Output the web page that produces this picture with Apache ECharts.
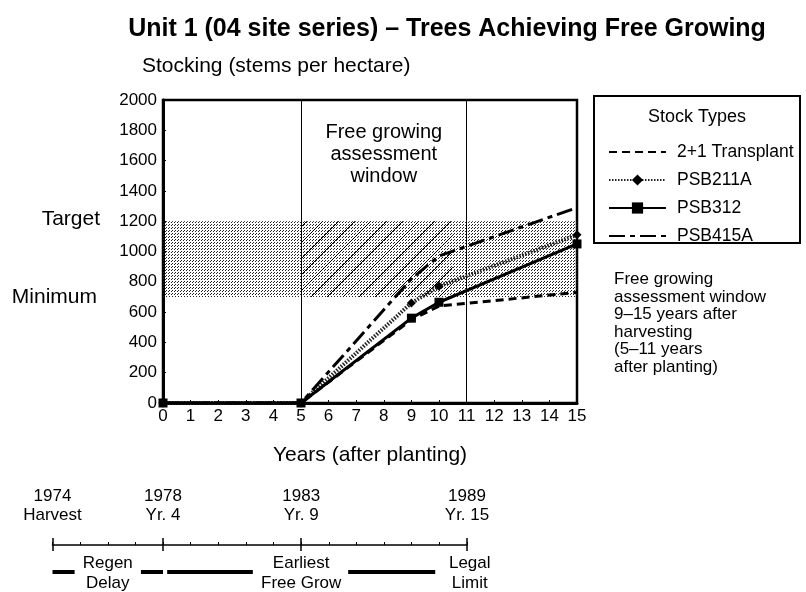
<!DOCTYPE html>
<html>
<head>
<meta charset="utf-8">
<script src="https://cdn.jsdelivr.net/npm/echarts@6/dist/echarts.min.js"></script>
<style>html,body{margin:0;padding:0;background:#fff}#c{width:806px;height:592px}</style>
</head>
<body>
<div id="c"></div>
<script>
// ---- data ----
const years = [0, 5, 9, 10, 15];
const transplant = [0, 0, 550, 640, 730];
const psb211a = [0, 0, 660, 770, 1110];
const psb312 = [0, 0, 560, 665, 1050];
const psb415a = [0, 0, 820, 970, 1290];
const seriesNames = ['2+1 Transplant', 'PSB211A', 'PSB312', 'PSB415A'];
const targetLevel = 1200;
const minimumLevel = 700;
const windowLines = [5, 11];
const hatchRange = [5, 10.5];
const timelineYears = [1974, 1978, 1983, 1989];
const timelineLabels = ['1974\nHarvest', '1978\nYr. 4', '1983\nYr. 9', '1989\nYr. 15'];
const timelineBars = [[1974.0, 1974.8], [1977.2, 1978.0], [1978.15, 1981.25], [1984.7, 1987.85]];
const phaseYears = [1976.0, 1983.0, 1989.1];
const phaseNames = ['Regen\nDelay', 'Earliest\nFree Grow', 'Legal\nLimit'];

const FONT = '"Liberation Sans", Arial, sans-serif';

function pattern(size, draw) {
  const c = document.createElement('canvas');
  c.width = size; c.height = size;
  const g = c.getContext('2d');
  draw(g);
  return c;
}
const dotCanvas = pattern(3, g => {
  g.fillStyle = '#222';
  g.fillRect(0, 0, 1, 1); g.fillRect(1, 2, 1, 1);
});
const hatchCanvas = pattern(16, g => {
  g.strokeStyle = '#000'; g.lineWidth = 1;
  g.beginPath(); g.moveTo(0, 16); g.lineTo(16, 0); g.stroke();
});

const pts = arr => years.map((x, i) => [x, arr[i]]);
const tlAxisBase = {gridIndex: 1, type: 'value', min: 1974, max: 1989, position: 'bottom', splitLine: {show: false}};

const chart = echarts.init(document.getElementById('c'), null, {renderer: 'canvas'});
const option = {
  animation: false,
  textStyle: {fontFamily: FONT, color: '#000'},
  grid: [
    {left: 163, top: 100, right: 229, bottom: 189, show: true, borderColor: '#000', borderWidth: 2.5},
    {left: 52.5, right: 339, top: 500, bottom: 47}
  ],
  xAxis: [
    {gridIndex: 0, type: 'value', min: 0, max: 15, interval: 1,
     axisLine: {lineStyle: {color: '#000', width: 3}},
     axisTick: {inside: true, length: 3, lineStyle: {color: '#000'}},
     splitLine: {show: false},
     axisLabel: {color: '#000', fontSize: 17, margin: 5, fontFamily: FONT},
     name: 'Years (after planting)', nameLocation: 'middle', nameGap: 42,
     nameTextStyle: {fontSize: 21, color: '#000', fontFamily: FONT}},
    Object.assign({}, tlAxisBase, {interval: 1,
     axisLine: {lineStyle: {color: '#000', width: 1.5}},
     axisTick: {inside: true, length: 3, lineStyle: {color: '#000'}},
     axisLabel: {show: false}}),
    Object.assign({}, tlAxisBase, {
     axisLine: {show: false},
     axisTick: {inside: true, length: 7, customValues: timelineYears, lineStyle: {color: '#000', width: 1.5}},
     axisLabel: {inside: true, margin: 20, customValues: timelineYears, color: '#000', fontSize: 17, lineHeight: 19, fontFamily: FONT,
       formatter: v => timelineLabels[timelineYears.indexOf(v)]}}),
    Object.assign({}, tlAxisBase, {
     axisLine: {show: false},
     axisTick: {inside: false, length: 6, customValues: timelineYears, lineStyle: {color: '#000', width: 1.5}},
     axisLabel: {show: false}})
  ],
  yAxis: [
    {gridIndex: 0, type: 'value', min: 0, max: 2000, interval: 200,
     axisLine: {show: true, lineStyle: {color: '#000', width: 3}},
     axisTick: {show: true, inside: true, length: 3, lineStyle: {color: '#000'}},
     splitLine: {show: false},
     axisLabel: {color: '#000', fontSize: 17, margin: 6, fontFamily: FONT, formatter: v => String(v)}},
    {gridIndex: 1, type: 'value', min: 0, max: 1, show: false}
  ],
  legend: {
    orient: 'vertical', left: 603, top: 138, itemWidth: 57, itemHeight: 14, itemGap: 10,
    data: [
      {name: seriesNames[0], itemStyle: {color: 'rgba(0,0,0,0)', borderWidth: 0}},
      {name: seriesNames[1]},
      {name: seriesNames[2]},
      {name: seriesNames[3], itemStyle: {color: 'rgba(0,0,0,0)', borderWidth: 0}}
    ],
    textStyle: {fontSize: 17.5, color: '#000', fontFamily: FONT, padding: [0, 0, 0, 6]}
  },
  series: [
    {name: seriesNames[0], type: 'line', data: pts(transplant), symbol: 'none', z: 5,
     color: '#000', lineStyle: {color: '#000', width: 3, type: [8, 5]},
     markArea: {silent: true, data: [
       [{xAxis: 0, yAxis: minimumLevel, itemStyle: {color: {image: dotCanvas, repeat: 'repeat'}}},
        {xAxis: 15, yAxis: targetLevel}],
       [{xAxis: hatchRange[0], yAxis: minimumLevel, itemStyle: {color: {image: hatchCanvas, repeat: 'repeat'}}},
        {xAxis: hatchRange[1], yAxis: targetLevel}]
     ]},
     markLine: {silent: true, symbol: 'none', label: {show: false},
       lineStyle: {color: '#000', width: 1, type: 'solid'},
       data: windowLines.map(v => ({xAxis: v}))}},
    {name: seriesNames[1], type: 'line', data: pts(psb211a), symbol: 'diamond', symbolSize: 9, z: 6,
     color: '#000', itemStyle: {color: '#000'},
     lineStyle: {color: '#222', width: 4, type: [1.5, 1.5]}},
    {name: seriesNames[2], type: 'line', data: pts(psb312), symbol: 'rect', symbolSize: 9, z: 7,
     color: '#000', itemStyle: {color: '#000'},
     lineStyle: {color: '#000', width: 3}},
    {name: seriesNames[3], type: 'line', data: pts(psb415a), symbol: 'none', z: 6,
     color: '#000', lineStyle: {color: '#000', width: 3, type: [16, 5, 5, 5]}},
    {type: 'custom', xAxisIndex: 1, yAxisIndex: 1, silent: true, clip: false,
     data: timelineBars,
     renderItem: (params, api) => {
       const a = api.coord([api.value(0), 0]);
       const b = api.coord([api.value(1), 0]);
       return {type: 'line', shape: {x1: a[0], y1: a[1] + 27, x2: b[0], y2: b[1] + 27},
               style: {stroke: '#000', lineWidth: 4}};
     }},
    {type: 'custom', xAxisIndex: 1, yAxisIndex: 1, silent: true, clip: false,
     data: phaseYears.map((y, i) => [y, i]),
     renderItem: (params, api) => {
       const p = api.coord([api.value(0), 0]);
       return {type: 'text', x: p[0], y: p[1] + 28,
               style: {text: phaseNames[api.value(1)], fill: '#000', font: '17px ' + FONT,
                       align: 'center', verticalAlign: 'middle', lineHeight: 20}};
     }}
  ]
};
chart.setOption(option);

const yT = chart.convertToPixel({yAxisIndex: 0}, targetLevel);
const yM = chart.convertToPixel({yAxisIndex: 0}, minimumLevel);
const winC = chart.convertToPixel({gridIndex: 0}, [8, 1640]);
chart.setOption({
  graphic: [
    {type: 'text', x: 447, y: 29, style: {text: 'Unit 1 (04 site series) – Trees Achieving Free Growing',
      font: 'bold 25px ' + FONT, fill: '#000', align: 'center', verticalAlign: 'middle'}},
    {type: 'text', x: 142, y: 66, style: {text: 'Stocking (stems per hectare)',
      font: '21px ' + FONT, fill: '#000', align: 'left', verticalAlign: 'middle'}},
    {type: 'text', x: 100, y: yT - 2, style: {text: 'Target', font: '21px ' + FONT, fill: '#000', align: 'right', verticalAlign: 'middle'}},
    {type: 'text', x: 97, y: yM, style: {text: 'Minimum', font: '21px ' + FONT, fill: '#000', align: 'right', verticalAlign: 'middle'}},
    {type: 'text', x: winC[0], y: winC[1], style: {text: 'Free growing\nassessment\nwindow',
      font: '20px ' + FONT, fill: '#000', align: 'center', verticalAlign: 'middle', lineHeight: 22}},
    {type: 'rect', shape: {x: 594, y: 96, width: 206, height: 147}, style: {fill: 'none', stroke: '#000', lineWidth: 2}},
    {type: 'text', x: 697, y: 117, style: {text: 'Stock Types', font: '18px ' + FONT, fill: '#000', align: 'center', verticalAlign: 'middle'}},
    {type: 'text', x: 614, y: 271, style: {text: 'Free growing\nassessment window\n9–15 years after\nharvesting\n(5–11 years\nafter planting)',
      font: '17px ' + FONT, fill: '#000', align: 'left', verticalAlign: 'top', lineHeight: 17.5}}
  ]
});
</script>
</body>
</html>
